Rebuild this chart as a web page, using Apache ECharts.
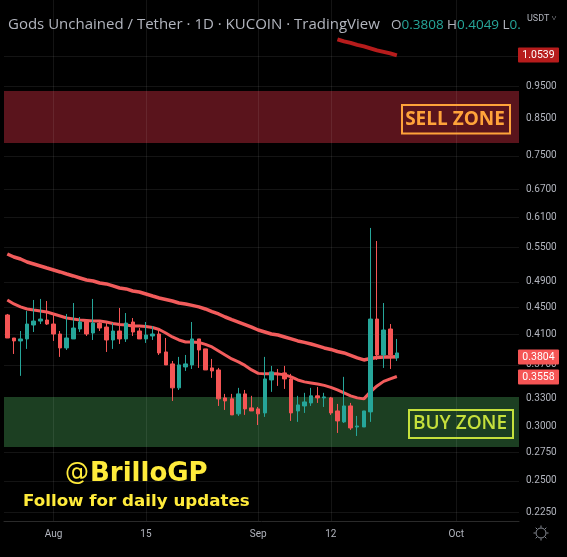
<!DOCTYPE html>
<html><head><meta charset="utf-8">
<style>html,body{margin:0;padding:0;background:#000}#c{width:567px;height:557px}</style>
<script src="https://cdn.jsdelivr.net/npm/echarts@6/dist/echarts.min.js"></script>
</head><body><div id="c"></div>
<script>
const dates = ["Jul 25","Jul 26","Jul 27","Jul 28","Jul 29","Jul 30","Jul 31",
"Aug 1","Aug 2","Aug 3","Aug 4","Aug 5","Aug 6","Aug 7","Aug 8","Aug 9","Aug 10","Aug 11","Aug 12","Aug 13","Aug 14","Aug 15","Aug 16","Aug 17","Aug 18","Aug 19","Aug 20","Aug 21","Aug 22","Aug 23","Aug 24","Aug 25","Aug 26","Aug 27","Aug 28","Aug 29","Aug 30","Aug 31",
"Sep 1","Sep 2","Sep 3","Sep 4","Sep 5","Sep 6","Sep 7","Sep 8","Sep 9","Sep 10","Sep 11","Sep 12","Sep 13","Sep 14","Sep 15","Sep 16","Sep 17","Sep 18","Sep 19","Sep 20","Sep 21","Sep 22","Sep 23","Sep 24","Sep 25","Sep 26","Sep 27","Sep 28","Sep 29","Sep 30",
"Oct 1","Oct 2","Oct 3","Oct 4","Oct 5","Oct 6","Oct 7","Oct 8","Oct 9","Oct 10"];
const dateTicks = {"Aug 1":"Aug","Aug 15":"15","Sep 1":"Sep","Sep 12":"12","Oct 1":"Oct"};
const priceTicks = [0.225,0.25,0.275,0.3,0.33,0.37,0.41,0.45,0.49,0.55,0.61,0.67,0.75,0.85,0.95,1.05];
// open, close, low, high
const candles = [
[.4381,.4053,.4053,.4396],[.4053,.4013,.3840,.4053],[.4013,.4040,.3566,.4150],[.4040,.4249,.3906,.4440],[.4235,.4292,.4136,.4609],
[.4292,.4321,.4249,.4625],[.4307,.4249,.4235,.4593],[.4249,.4108,.4013,.4410],[.4108,.3919,.3802,.4150],[.3919,.4053,.3892,.4396],
[.4040,.4192,.4040,.4562],[.4178,.4278,.4136,.4351],[.4292,.4108,.4081,.4307],[.4122,.4263,.4026,.4625],[.4263,.4192,.4150,.4278],
[.4206,.4026,.3866,.4292],[.4026,.4150,.3906,.4263],[.4150,.4040,.3972,.4486],[.4040,.4263,.3999,.4410],[.4278,.4136,.4081,.4336],
[.4150,.4040,.4040,.4192],[.4040,.4094,.3986,.4278],[.4081,.4108,.4026,.4220],[.4108,.3853,.3827,.4192],[.3866,.3700,.3700,.4053],
[.3713,.3424,.3276,.3750],[.3424,.3700,.3400,.3802],[.3675,.3713,.3626,.3827],[.3700,.4040,.3650,.4278],[.4040,.3892,.3663,.4040],
[.3906,.3638,.3638,.3906],[.3663,.3626,.3542,.3776],[.3638,.3299,.3221,.3663],[.3310,.3276,.3178,.3355],[.3299,.3125,.3125,.3355],
[.3136,.3355,.3114,.3424],[.3355,.3189,.3125,.3400],[.3200,.3167,.3167,.3333],[.3189,.3136,.3020,.3210],[.3146,.3529,.3104,.3802],
[.3517,.3614,.3378,.3688],[.3590,.3578,.3447,.3650],[.3602,.3529,.3412,.3688],[.3529,.3146,.3062,.3590],[.3167,.3232,.3052,.3333],
[.3221,.3265,.3146,.3367],[.3254,.3333,.3221,.3424],[.3333,.3310,.3254,.3435],[.3310,.3321,.3210,.3367],[.3310,.3146,.3125,.3321],
[.3167,.3062,.2940,.3243],[.3052,.3221,.3041,.3554],[.3221,.2990,.2970,.3254],[.3000,.3010,.2910,.3114],[.3000,.3167,.3000,.3167],
[.3157,.4321,.3052,.5880],[.4321,.3827,.3763,.5626],[.3827,.4164,.3663,.4562],[.4178,.3827,.3650,.4249],[.3789,.3853,.3750,.4040]];
const maSlow = [.5384,.5330,.5294,.5240,.5205,.5170,.5135,.5101,.5067,.5032,.4999,.4965,.4931,.4915,.4882,.4866,.4833,.4800,.4784,.4751,
.4735,.4703,.4671,.4640,.4617,.4593,.4562,.4547,.4525,.4502,.4471,.4432,.4396,.4351,.4314,.4278,.4242,.4206,.4164,.4136,
.4108,.4094,.4067,.4040,.4013,.3993,.3972,.3946,.3919,.3899,.3872,.3853,.3821,.3789,.3763,.3782,.3795,.3802,.3802,.3804];
const maFast = [.4609,.4547,.4502,.4471,.4455,.4440,.4425,.4396,.4366,.4336,.4321,.4307,.4300,.4292,.4292,.4278,.4256,.4242,.4235,.4220,
.4220,.4213,.4199,.4171,.4122,.4067,.4026,.3999,.3999,.3993,.3966,.3932,.3879,.3827,.3776,.3738,.3694,.3638,.3596,.3590,
.3590,.3590,.3578,.3554,.3517,.3494,.3482,.3470,.3453,.3430,.3400,.3367,.3333,.3310,.3299,.3378,.3447,.3500,.3529,.3558];
const maLongDays = ["Sep 13","Sep 14","Sep 15","Sep 16","Sep 17","Sep 18","Sep 19","Sep 20","Sep 21","Sep 22"];
const maLong = [1.1125,1.1049,1.0993,1.0919,1.0864,1.0791,1.0718,1.0664,1.0610,1.0539];
const sellZone = [0.7836,0.9341];
const buyZone = [0.2804,0.3321];
const lastTags = [[1.0539,"#b71c1c"],[0.3804,"#f55555"],[0.3558,"#f55555"]];

const chart = echarts.init(document.getElementById('c'), null, {renderer:'canvas'});
const GRID = 'rgba(255,255,255,0.08)', TXT = '#b2b5be', UI = 'Roboto, sans-serif';
chart.setOption({
  animation:false, backgroundColor:'#000',
  grid:{left:4, right:48, top:0, bottom:36},
  xAxis:{type:'category', data:dates, boundaryGap:true,
    axisLine:{show:true,lineStyle:{color:'#2a2a2a'}}, axisTick:{show:false}, splitLine:{show:false},
    axisLabel:{color:TXT, fontFamily:UI, fontSize:10, margin:8,
      interval:(i,v)=>v in dateTicks, formatter:v=>dateTicks[v]||''}},
  yAxis:{type:'log', logBase:10, position:'right', min:0.2183, max:1.2708, scale:true,
    axisLine:{show:false}, axisTick:{show:false,customValues:priceTicks},
    splitLine:{show:true,lineStyle:{color:GRID,width:1}},
    minorSplitLine:{show:false},
    axisLabel:{color:TXT, fontFamily:UI, fontSize:10, margin:7, customValues:priceTicks,
      formatter:v=>(+v).toFixed(4)}},
  series:[
    {type:'line', data:[], silent:true, z:0,
      markArea:{silent:true, z:0, label:{show:false}, data:[
        [{yAxis:sellZone[1],itemStyle:{color:'#5a141c'}},{yAxis:sellZone[0]}],
        [{yAxis:buyZone[1],itemStyle:{color:'#1c3f22'}},{yAxis:buyZone[0]}]]},
      markLine:{silent:true, symbol:'none', label:{show:false}, z:1,
        lineStyle:{color:GRID,type:'solid',width:1},
        data:Object.keys(dateTicks).map(d=>({xAxis:d}))}},
    {type:'line', data:maSlow, symbol:'none', smooth:false, z:2, silent:true, lineStyle:{color:'#f25c5c',width:3.5}},
    {type:'line', data:maFast, symbol:'none', smooth:false, z:2, silent:true, lineStyle:{color:'#f25c5c',width:3}},
    {type:'line', data:maLongDays.map((d,i)=>[d,maLong[i]]), symbol:'none', z:2, silent:true, lineStyle:{color:'#b71c1c',width:4}},
    {type:'candlestick', data:candles, barWidth:4, z:3,
      itemStyle:{color:'#26a69a',color0:'#f55555',borderColor:'#26a69a',borderColor0:'#f55555',borderWidth:1}}
  ]
});
const gfx = [];
lastTags.forEach(([v,col])=>{
  const y = chart.convertToPixel({yAxisIndex:0}, v);
  gfx.push({type:'rect',z:50,shape:{x:518,y:Math.round(y)-7.5,width:41,height:15,r:1},style:{fill:col}});
  gfx.push({type:'text',z:51,x:538.5,y:Math.round(y),style:{text:v.toFixed(4),fill:'#fff',font:'10.5px Roboto',textAlign:'center',textVerticalAlign:'middle'}});
});
const gearTicks = [[541,525.5,541,527.5],[541,538.5,541,540.5],[533.5,533,535.5,533],[546.5,533,548.5,533],[535.7,527.7,537.1,529.1],[544.9,536.9,546.3,538.3],[546.3,527.7,544.9,529.1],[537.1,536.9,535.7,538.3]];
gearTicks.forEach(([x1,y1,x2,y2])=>gfx.push({type:'line',z:60,shape:{x1,y1,x2,y2},style:{stroke:'#8a8e97',lineWidth:1}}));
gfx.push(
 {type:'text',z:60,x:8,y:25,style:{text:'Gods Unchained / Tether · 1D · KUCOIN · TradingView',fill:TXT,font:'15px "Open Sans"',textVerticalAlign:'middle'}},
 {type:'text',z:60,x:391,y:25,style:{rich:{g:{fill:TXT,font:'13.5px "Open Sans"'},t:{fill:'#26a69a',font:'13.5px "Open Sans"'}},text:'{g|O}{t|0.3808} {g|H}{t|0.4049} {g|L}{t|0.}',textVerticalAlign:'middle'}},
 {type:'text',z:60,x:527,y:19,style:{text:'USDT ˅',fill:TXT,font:'9px Roboto',textVerticalAlign:'middle'}},
 {type:'rect',z:60,shape:{x:402,y:105,width:108,height:28.5},style:{fill:'rgba(0,0,0,0)',stroke:'#ffa33a',lineWidth:2}},
 {type:'text',z:61,x:455,y:120,style:{text:'SELL ZONE',fill:'#ffa33a',font:'bold 19px "Open Sans"',textAlign:'center',textVerticalAlign:'middle'}},
 {type:'rect',z:60,shape:{x:409,y:410,width:104,height:28},style:{fill:'rgba(0,0,0,0)',stroke:'#c5e03c',lineWidth:2}},
 {type:'text',z:61,x:460,y:424,style:{text:'BUY ZONE',fill:'#c5e03c',font:'600 19px "Open Sans"',textAlign:'center',textVerticalAlign:'middle'}},
 {type:'text',z:61,x:65,y:474,style:{text:'@',fill:'#ffeb3b',font:'500 24px "DejaVu Sans"',textVerticalAlign:'middle'}},
 {type:'text',z:61,x:90,y:474,style:{text:'BrilloGP',fill:'#ffeb3b',font:'bold 26px "DejaVu Sans"',textVerticalAlign:'middle'}},
 {type:'text',z:61,x:23,y:502,style:{text:'Follow for daily updates',fill:'#ffeb3b',font:'bold 16.7px "DejaVu Sans"',textVerticalAlign:'middle'}},
 {type:'circle',z:60,shape:{cx:541,cy:533,r:5},style:{fill:'none',stroke:'#8a8e97',lineWidth:1}}
);
chart.setOption({graphic:gfx});
</script></body></html>
